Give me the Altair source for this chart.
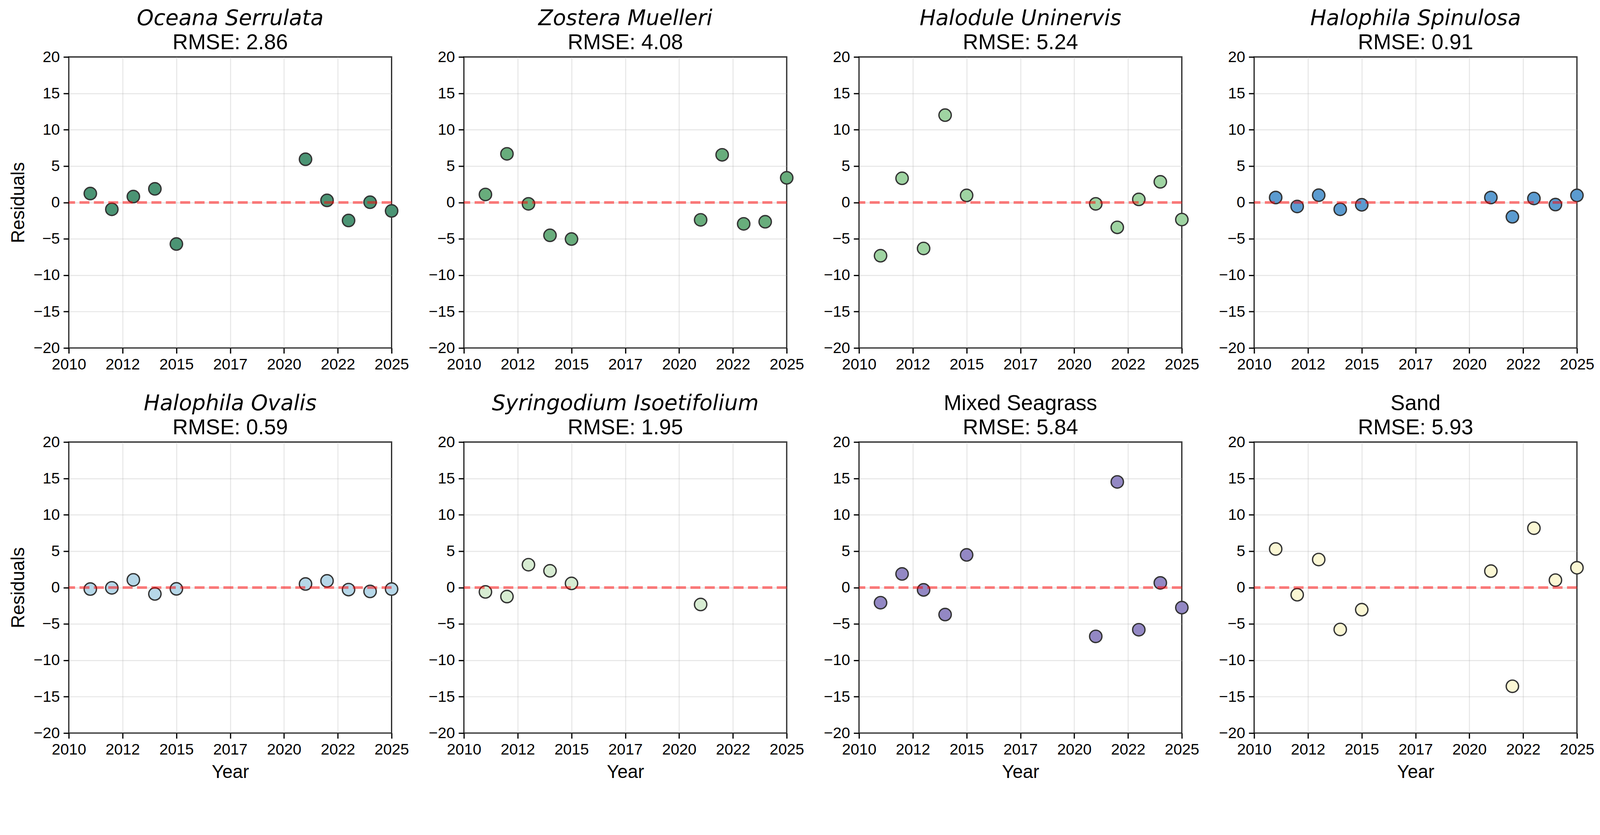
import altair as alt
import pandas as pd

years = [2011, 2012, 2013, 2014, 2015, 2021, 2022, 2023, 2024, 2025]

species = ["Oceana Serrulata", "Zostera Muelleri", "Halodule Uninervis", "Halophila Spinulosa",
           "Halophila Ovalis", "Syringodium Isoetifolium", "Mixed Seagrass", "Sand"]
italic = [True, True, True, True, True, True, False, False]
rmse = ["2.86", "4.08", "5.24", "0.91", "0.59", "1.95", "5.84", "5.93"]
colors = ["#4b9474", "#68ad7c", "#9fd4a2", "#5b9bd0", "#b6d7e8", "#d7ecd2", "#9388c4", "#fbf7d4"]

res_oceana = [1.23, -0.94, 0.81, 1.87, -5.71, 5.94, 0.29, -2.48, 0.03, -1.16]
res_zostera = [1.10, 6.68, -0.19, -4.52, -5.03, -2.39, 6.55, -2.94, -2.65, 3.39]
res_halodule = [-7.32, 3.32, -6.32, 12.0, 0.97, -0.19, -3.42, 0.42, 2.84, -2.35]
res_spinulosa = [0.68, -0.55, 1.00, -0.94, -0.32, 0.68, -1.97, 0.55, -0.29, 0.97]
res_ovalis = [-0.21, -0.04, 1.06, -0.88, -0.18, 0.49, 0.92, -0.28, -0.53, -0.21]
res_syringodium = [-0.60, -1.24, 3.14, 2.30, 0.57, -2.33]
res_mixed = [-2.08, 1.87, -0.32, -3.71, 4.49, -6.71, 14.52, -5.80, 0.64, -2.76]
res_sand = [5.30, -0.99, 3.85, -5.76, -3.04, 2.26, -13.57, 8.16, 1.02, 2.72]

residuals = [res_oceana, res_zostera, res_halodule, res_spinulosa,
             res_ovalis, res_syringodium, res_mixed, res_sand]

x_ticks = [2010, 2012.5, 2015, 2017.5, 2020, 2022.5, 2025]
y_ticks = [-20, -15, -10, -5, 0, 5, 10, 15, 20]

W, H = 875, 789

panels = []
for i, name in enumerate(species):
    vals = residuals[i]
    df = pd.DataFrame({"Year": years[:len(vals)], "Residual": vals})
    first_col = (i % 4 == 0)
    bottom_row = (i >= 4)
    xaxis = alt.Axis(values=x_ticks, labelExpr="floor(datum.value)", labelFlush=False,
                     title="Year" if bottom_row else None)
    yaxis = alt.Axis(values=y_ticks, labelFlush=False,
                     labelExpr="datum.value < 0 ? '\u2212' + abs(datum.value) : '' + datum.value",
                     title="Residuals" if first_col else None)
    pts = alt.Chart(df).mark_point(
        filled=True, shape="circle", size=1120, fill=colors[i],
        stroke="#333333", strokeWidth=3.6, opacity=1
    ).encode(
        x=alt.X("Year:Q", scale=alt.Scale(domain=[2010, 2025], nice=False, zero=False), axis=xaxis),
        y=alt.Y("Residual:Q", scale=alt.Scale(domain=[-20, 20], nice=False), axis=yaxis),
    )
    zero = alt.Chart(pd.DataFrame({"z": [0]})).mark_rule(
        color="red", opacity=0.5, strokeWidth=7, strokeDash=[27, 12]
    ).encode(y="z:Q")
    if italic[i]:
        tp = alt.TitleParams(text=name, subtitle="RMSE: " + rmse[i], font="DejaVu Sans",
                             fontStyle="italic", fontWeight="normal", fontSize=58,
                             subtitleFont="Liberation Sans", subtitleFontSize=58,
                             subtitleColor="black", color="black", anchor="middle",
                             offset=-12, subtitlePadding=8)
    else:
        tp = alt.TitleParams(text=name, subtitle="RMSE: " + rmse[i], font="Liberation Sans",
                             fontWeight="normal", fontSize=58,
                             subtitleFont="Liberation Sans", subtitleFontSize=58,
                             subtitleColor="black", color="black", anchor="middle",
                             offset=-12, subtitlePadding=8)
    panels.append(alt.layer(pts, zero).properties(width=W, height=H, title=tp))

chart = alt.concat(*panels, columns=4, spacing=alt.RowColnumber(row=255, column=196),
                   bounds="flush").properties(
    padding={"left": 14, "top": -48, "right": 5, "bottom": -50},
    background="white"
).configure_view(
    stroke="black", strokeWidth=3.3
).configure_axis(
    labelFont="Liberation Sans", labelFontSize=42, labelColor="black",
    titleFont="Liberation Sans", titleFontSize=50, titleFontWeight="normal", titleColor="black",
    tickColor="black", tickSize=14.6, tickWidth=3.3, domain=False,
    gridColor="#b0b0b0", gridOpacity=0.3, gridWidth=2.8,
    labelPadding=10, titlePadding=16
)

chart.save("out.html", embed_options={"renderer": "svg", "actions": False})
